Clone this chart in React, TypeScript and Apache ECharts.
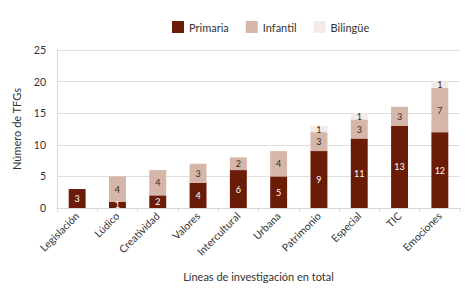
import React, { useEffect, useRef } from "react";
import * as echarts from "echarts";

const categories = ["Legislación", "Lúdico", "Creatividad", "Valores", "Intercultural", "Urbana", "Patrimonio", "Especial", "TIC", "Emociones"];
const primaria = [3, 1, 2, 4, 6, 5, 9, 11, 13, 12];
const infantil = [0, 4, 4, 3, 2, 4, 3, 3, 3, 7];
const bilingue = [0, 0, 0, 0, 0, 0, 1, 1, 0, 1];
const yTicks = { min: 0, max: 25, interval: 5 };

const FONT = "Lato";

export default function App() {
  const ref = useRef<HTMLDivElement>(null);
  useEffect(() => {
    if (!ref.current) return;
    const chart = echarts.init(ref.current, undefined, { renderer: "svg" });
    const lbl = (color: string) => ({
      show: true,
      position: "inside" as const,
      color,
      fontSize: 9,
      fontFamily: FONT,
      fontWeight: "normal" as const,
      formatter: (p: any) => (p.value ? String(p.value) : ""),
    });
    chart.setOption({
      animation: false,
      textStyle: { fontFamily: FONT },
      legend: {
        top: 16,
        left: 167,
        itemWidth: 12,
        itemHeight: 12,
        itemGap: 17,
        icon: "rect",
        textStyle: { fontSize: 11, color: "#333", fontFamily: FONT },
        data: ["Primaria", "Infantil", "Bilingüe"],
      },
      grid: { left: 57, right: 12, top: 50, bottom: 93 },
      xAxis: {
        type: "category",
        data: categories,
        name: "Líneas de investigación en total",
        nameLocation: "middle",
        nameGap: 63,
        nameTextStyle: { fontSize: 11, color: "#333", fontFamily: FONT },
        axisLine: { show: true, lineStyle: { color: "#d9d9d9" } },
        axisTick: { show: true, length: 4, lineStyle: { color: "#d9d9d9" } },
        axisLabel: { rotate: 45, fontSize: 10.5, color: "#333", margin: 6, fontFamily: FONT },
      },
      yAxis: {
        type: "value",
        min: yTicks.min,
        max: yTicks.max,
        interval: yTicks.interval,
        name: "Número de TFGs",
        nameLocation: "middle",
        nameGap: 35,
        nameTextStyle: { fontSize: 11, color: "#333", fontFamily: FONT },
        axisLine: { show: true, lineStyle: { color: "#d9d9d9" } },
        axisTick: { show: false },
        axisLabel: { fontSize: 10.5, color: "#333", margin: 11, fontFamily: FONT },
        splitLine: { lineStyle: { color: "#dedede" } },
      },
      series: [
        { name: "Primaria", type: "bar", stack: "t", data: primaria, barWidth: "42%", itemStyle: { color: "#6b1c06" }, label: lbl("#ffffff") },
        { name: "Infantil", type: "bar", stack: "t", data: infantil, barWidth: "42%", itemStyle: { color: "#d5b6a8" }, label: lbl("#3a2a22") },
        { name: "Bilingüe", type: "bar", stack: "t", data: bilingue, barWidth: "42%", itemStyle: { color: "#f3ebe7" }, label: lbl("#3a2a22") },
      ],
    });
    return () => chart.dispose();
  }, []);
  return <div ref={ref} style={{ width: 472, height: 301, margin: -8, background: "#fff" }} />;
}
